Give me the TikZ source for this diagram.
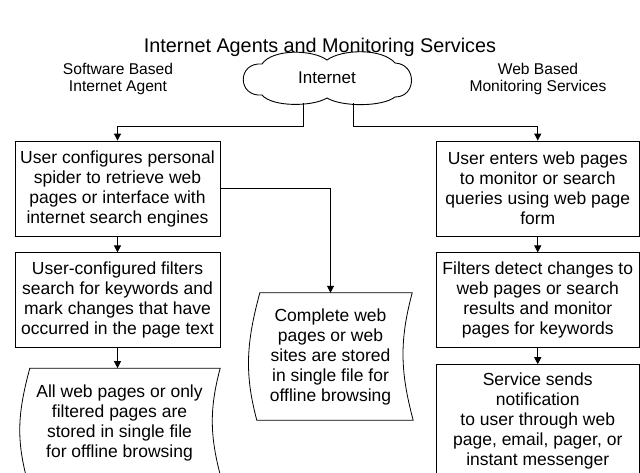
\documentclass[tikz,border=0pt]{standalone}
\usepackage{fontspec}
\setmainfont{Liberation Sans}
\usetikzlibrary{positioning, arrows.meta}

\newcommand{\boxfont}{\fontsize{17.5}{20}\selectfont}
% outline of a stored-file node: straight top and bottom, bent sides
\newcommand{\tapeoutline}[1]{%
  \draw[line width=0.8pt] ([xshift=12pt]#1.north west) -- ([xshift=-1pt]#1.north east)
    to[out=-105,in=105] (#1.south east) -- ([xshift=9pt]#1.south west)
    to[out=105,in=-105] ([xshift=12pt]#1.north west) -- cycle;}

\begin{document}
\begin{tikzpicture}[
    x=1pt, y=1pt,
    node distance=16pt,
    stepbox/.style={draw, line width=0.8pt, minimum width=205pt, minimum height=95pt, align=center, font=\boxfont, inner sep=0pt},
    tape/.style={align=center, font=\boxfont, inner sep=0pt},
    head/.style={align=center, font=\fontsize{15.6}{17}\selectfont},
    arrow/.style={-{Triangle[length=7pt,width=7pt]}, line width=0.8pt}
]
\useasboundingbox (0,0) rectangle (640,-472);
\clip (0,0) rectangle (640,-472);

\node[font=\fontsize{19.8}{22}\selectfont] (title) at (320,-47) {Internet Agents and Monitoring Services};
\node[minimum width=170pt, minimum height=50pt, inner sep=0pt, font=\fontsize{17}{20}\selectfont] (net) at (327,-78) {Internet};
\node[head] (softhead) at (118,-79) {Software Based\\Internet Agent};
\node[head] (webhead) at (538,-79) {Web Based\\Monitoring Services};

% cloud round the internet label
\draw[line width=0.9pt, shift={(net.center)}]
  (-65,14) .. controls (-55,29) and (-15,29) .. (0,18)
  .. controls (15,29) and (55,30) .. (68,15)
  .. controls (90,14) and (90,-19) .. (68,-19)
  .. controls (55,-29) and (15,-29) .. (0,-20)
  .. controls (-15,-29) and (-55,-29) .. (-65,-17)
  .. controls (-90,-19) and (-90,16) .. cycle;

% left column: software agent
\node[stepbox] (spider) at (117.5,-188.5) {User configures personal\\spider to retrieve web\\pages or interface with\\internet search engines};
\node[stepbox, below=of spider] (filters) {User-configured filters\\search for keywords and\\mark changes that have\\occurred in the page text};
\node[tape, minimum width=203pt, minimum height=110pt, below=20pt of filters, xshift=2pt] (saved) {All web pages or only\\filtered pages are\\stored in single file\\for offline browsing};

% middle: whole sites saved
\node[tape, minimum width=165pt, minimum height=127pt] (site) at (330.5,-356.5) {Complete web\\pages or web\\sites are stored\\in single file for\\offline browsing};

% right column: web based services
\node[stepbox, minimum width=202.5pt] (enter) at (537.75,-188.5) {User enters web pages\\to monitor or search\\queries using web page\\form};
\node[stepbox, minimum width=202.5pt, below=of enter] (detect) {Filters detect changes to\\web pages or search\\results and monitor\\pages for keywords};
\node[stepbox, minimum width=202.5pt, minimum height=112pt, below=of detect] (notify) {Service sends\\notification\\to user through web\\page, email, pager, or\\instant messenger};

\tapeoutline{saved}
\tapeoutline{site}

\draw[arrow] ([xshift=-24pt]net.south) -- ++(0,-23) -| (spider.north);
\draw[arrow] ([xshift=26pt]net.south) -- ++(0,-23) -| (enter.north);
\draw[arrow] (spider) -- (filters);
\draw[arrow] (filters.south) -- (filters.south |- saved.north);
\draw[arrow] (spider.east) -| (site.north);
\draw[arrow] (enter) -- (detect);
\draw[arrow] (detect) -- (notify);
\end{tikzpicture}
\end{document}
